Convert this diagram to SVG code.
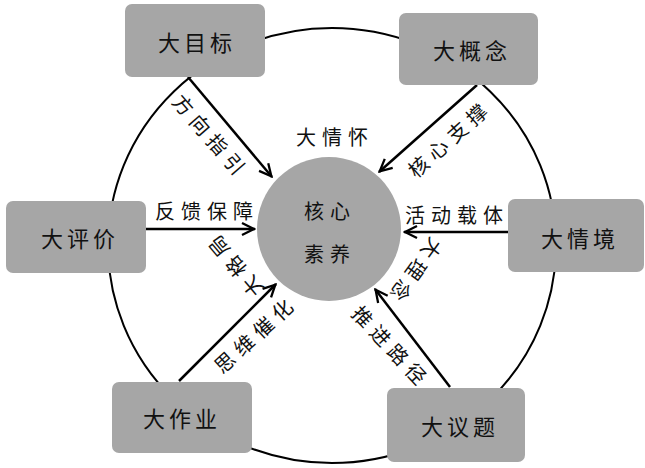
<svg xmlns="http://www.w3.org/2000/svg" width="645" height="468" viewBox="0 0 645 468">
<defs>
<style>
.box{fill:#a6a6a6;}
.bt{font-family:"Noto Sans CJK SC","Noto Sans CJK TC",sans-serif;font-size:22px;letter-spacing:4px;fill:#111;text-anchor:middle;dominant-baseline:central;}
.lt{font-family:"Noto Sans CJK SC","Noto Sans CJK TC",sans-serif;font-size:20px;letter-spacing:6px;fill:#111;text-anchor:middle;dominant-baseline:central;}
.ring{fill:none;stroke:#000;stroke-width:2;}
.arr{fill:none;stroke:#000;stroke-width:2.5;marker-end:url(#ah);}
</style>
<marker id="ah" markerUnits="userSpaceOnUse" markerWidth="16" markerHeight="16" refX="1" refY="0" viewBox="-14 -8 16 16" orient="auto">
<path d="M-12,-6 L0,0 L-12,6" fill="none" stroke="#000" stroke-width="2.3"/>
</marker>
</defs>
<rect width="645" height="468" fill="#fff"/>
<g id="ring">
<ellipse class="ring" cx="332" cy="245.5" rx="224" ry="217.5"/>
</g>
<g id="connectors">
<line class="arr" x1="188" y1="77" x2="272" y2="177"/>
<line class="arr" x1="477" y1="85" x2="379" y2="172"/>
<line class="arr" x1="146" y1="229" x2="255" y2="229"/>
<line class="arr" x1="508" y1="232" x2="404" y2="232"/>
<line class="arr" x1="179" y1="381" x2="276" y2="284"/>
<line class="arr" x1="450" y1="387" x2="375" y2="289"/>
</g>
<g id="labels">
<text class="lt" x="212.5" y="134" transform="rotate(49 209.5 134)">方向指引</text>
<text class="lt" x="450" y="140" transform="rotate(-42 447 140)">核心支撑</text>
<text class="lt" x="207" y="210">反馈保障</text>
<text class="lt" x="457" y="214">活动载体</text>
<text class="lt" x="256" y="335.5" transform="rotate(-42.5 253 335.5)">思维催化</text>
<text class="lt" x="393" y="344.5" transform="rotate(47 390 344.5)">推进路径</text>
<text class="lt" x="335" y="136">大情怀</text>
<text class="lt" x="238" y="267" transform="rotate(230 235 267)">大格局</text>
<text class="lt" x="420" y="270" transform="rotate(126 417 270)">大理念</text>
</g>
<g id="core">
<circle cx="329" cy="229" r="72" fill="#a6a6a6"/>
<text class="lt" x="330" y="210">核心</text>
<text class="lt" x="330" y="253">素养</text>
</g>
<g id="n-mubiao"><rect class="box" x="125" y="4" width="140" height="73" rx="7"/><text class="bt" x="197" y="41">大目标</text></g>
<g id="n-gainian"><rect class="box" x="399" y="13" width="139" height="72" rx="7"/><text class="bt" x="472" y="49">大概念</text></g>
<g id="n-pingjia"><rect class="box" x="6" y="201" width="140" height="72" rx="7"/><text class="bt" x="80" y="237">大评价</text></g>
<g id="n-qingjing"><rect class="box" x="508" y="199" width="136" height="73" rx="7"/><text class="bt" x="580" y="237">大情境</text></g>
<g id="n-zuoye"><rect class="box" x="112" y="382" width="140" height="71" rx="7"/><text class="bt" x="182" y="417">大作业</text></g>
<g id="n-yiti"><rect class="box" x="387" y="388" width="138" height="74" rx="7"/><text class="bt" x="460" y="425">大议题</text></g>
</svg>
